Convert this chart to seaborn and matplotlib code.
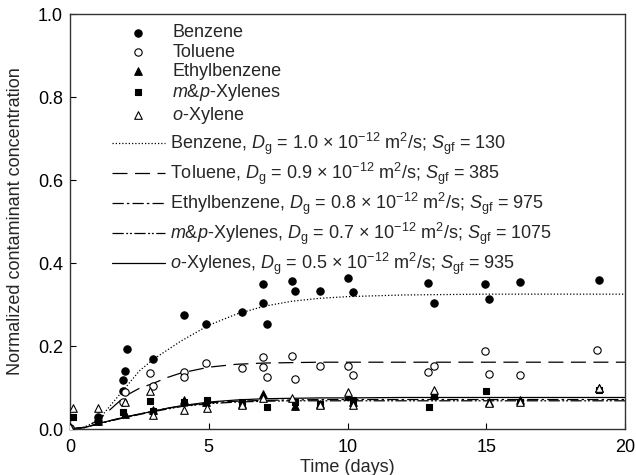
import numpy as np
import pandas as pd
import matplotlib
matplotlib.use('Agg')
import matplotlib.pyplot as plt
import seaborn as sns

# measured data (time in days, normalized concentration)
benz_t = [0, 1.0, 1.9, 1.9, 2.0, 2.05, 3.0, 4.1, 4.9, 6.2, 6.95, 6.95, 7.1, 8.0, 8.1, 9.0, 10.0, 10.2, 12.9, 13.1, 14.95, 15.1, 16.2, 19.05]
benz_c = [0.003, 0.03, 0.092, 0.118, 0.141, 0.193, 0.168, 0.275, 0.252, 0.281, 0.349, 0.303, 0.252, 0.357, 0.332, 0.333, 0.365, 0.330, 0.351, 0.304, 0.349, 0.313, 0.354, 0.359]

tol_t = [0, 1.0, 1.9, 2.0, 2.9, 3.0, 4.1, 4.1, 4.9, 6.2, 6.95, 6.95, 7.1, 8.0, 8.1, 9.0, 10.0, 10.2, 12.9, 13.1, 14.95, 15.1, 16.2, 19.0]
tol_c = [0.003, 0.02, 0.066, 0.088, 0.134, 0.104, 0.137, 0.126, 0.159, 0.147, 0.173, 0.149, 0.125, 0.177, 0.121, 0.152, 0.152, 0.129, 0.138, 0.153, 0.187, 0.132, 0.131, 0.19]

eth_t = [0, 1.0, 2.0, 3.0, 4.1, 4.9, 6.2, 6.95, 8.1, 9.0, 10.0, 10.2, 13.1, 15.1, 16.2, 19.05]
eth_c = [0.005, 0.02, 0.035, 0.045, 0.07, 0.065, 0.06, 0.085, 0.055, 0.06, 0.08, 0.065, 0.085, 0.065, 0.07, 0.1]

mp_t = [0.1, 1.0, 1.9, 2.9, 3.0, 4.1, 4.95, 6.2, 7.1, 8.1, 9.0, 10.2, 12.95, 13.1, 14.98, 16.2, 19.05]
mp_c = [0.03, 0.025, 0.042, 0.067, 0.043, 0.065, 0.07, 0.066, 0.054, 0.065, 0.06, 0.07, 0.054, 0.082, 0.092, 0.066, 0.095]

ox_t = [0, 0.1, 1.0, 2.0, 2.9, 3.0, 4.1, 4.95, 6.2, 6.95, 8.0, 9.0, 10.0, 10.2, 13.1, 15.1, 16.2, 19.05]
ox_c = [0.005, 0.05, 0.05, 0.066, 0.092, 0.034, 0.046, 0.05, 0.058, 0.074, 0.074, 0.058, 0.09, 0.058, 0.094, 0.062, 0.066, 0.098]

# model curves
mod_t = [0, 0.5, 1, 1.5, 2, 2.5, 3, 3.5, 4, 5, 6, 7, 8, 9, 10, 12, 15, 20]
mod_benz = [0, 0.004, 0.02, 0.06, 0.10, 0.14, 0.168, 0.19, 0.212, 0.25, 0.277, 0.296, 0.308, 0.315, 0.319, 0.323, 0.325, 0.325]
mod_tol = [0, 0.004, 0.02, 0.05, 0.08, 0.098, 0.11, 0.124, 0.135, 0.149, 0.156, 0.159, 0.16, 0.161, 0.161, 0.161, 0.161, 0.161]
mod_eth = [0, 0.003, 0.012, 0.021, 0.029, 0.036, 0.043, 0.05, 0.055, 0.063, 0.067, 0.069, 0.070, 0.071, 0.071, 0.071, 0.071, 0.071]
mod_mp = [0, 0.003, 0.012, 0.02, 0.028, 0.035, 0.042, 0.048, 0.054, 0.061, 0.065, 0.067, 0.068, 0.068, 0.068, 0.068, 0.068, 0.068]
mod_ox = [0, 0.003, 0.013, 0.021, 0.029, 0.036, 0.043, 0.05, 0.056, 0.065, 0.070, 0.073, 0.074, 0.075, 0.075, 0.076, 0.076, 0.076]

pt_labels = ['Benzene', 'Toluene', 'Ethylbenzene', r'$m$&$p$-Xylenes', r'$o$-Xylene']
mod_labels = [
    r'Benzene, $D_\mathrm{g}$ = 1.0 $\times$ 10$^{-12}$ m$^2$/s; $S_\mathrm{gf}$ = 130',
    r'Toluene, $D_\mathrm{g}$ = 0.9 $\times$ 10$^{-12}$ m$^2$/s; $S_\mathrm{gf}$ = 385',
    r'Ethylbenzene, $D_\mathrm{g}$ = 0.8 $\times$ 10$^{-12}$ m$^2$/s; $S_\mathrm{gf}$ = 975',
    r'$m$&$p$-Xylenes, $D_\mathrm{g}$ = 0.7 $\times$ 10$^{-12}$ m$^2$/s; $S_\mathrm{gf}$ = 1075',
    r'$o$-Xylenes, $D_\mathrm{g}$ = 0.5 $\times$ 10$^{-12}$ m$^2$/s; $S_\mathrm{gf}$ = 935',
]

sns.set_style('ticks')
plt.rcParams['font.family'] = ['Liberation Sans', 'DejaVu Sans']
plt.rcParams['mathtext.fontset'] = 'custom'
plt.rcParams['mathtext.rm'] = 'Liberation Sans'
plt.rcParams['mathtext.it'] = 'Liberation Sans:italic'
plt.rcParams['mathtext.bf'] = 'Liberation Sans:bold'

fig = plt.figure(figsize=(6.36, 4.75), dpi=100)
ax = fig.add_axes([0.110, 0.0968, 0.873, 0.8737])

# points
pts = [(benz_t, benz_c, 'o', 'black', 28),
       (tol_t, tol_c, 'o', 'white', 28),
       (eth_t, eth_c, '^', 'black', 30),
       (mp_t, mp_c, 's', 'black', 24),
       (ox_t, ox_c, '^', 'white', 30)]
for (t, c, m, fc, s), lab in zip(pts, pt_labels):
    sns.scatterplot(x=t, y=c, marker=m, color=fc, edgecolor='black', linewidth=0.8,
                    s=s, ax=ax, label=lab, zorder=3)

# model lines
styles = [(0, (1, 1.6)), (0, (12, 6)), (0, (9, 2.5, 2, 2.5)), (0, (9, 2, 1.5, 1.5, 1.5, 2)), '-']
mods = [mod_benz, mod_tol, mod_eth, mod_mp, mod_ox]
for c, ls, lab in zip(mods, styles, mod_labels):
    sns.lineplot(x=mod_t, y=c, color='black', linewidth=0.9, linestyle=ls, ax=ax, label=lab)

ax.set_xlim(0, 20)
ax.set_ylim(0, 1.0)
ax.set_xticks([0, 5, 10, 15, 20])
ax.set_yticks([0, 0.2, 0.4, 0.6, 0.8, 1.0])
ax.set_yticklabels(['0.0', '0.2', '0.4', '0.6', '0.8', '1.0'])
ax.tick_params(direction='in', length=4, width=0.8, labelsize=13, colors='black')
ax.tick_params(axis='x', pad=7)
ax.tick_params(axis='y', pad=5)
for sp in ax.spines.values():
    sp.set_linewidth(1.0)
    sp.set_color('#333333')
ax.set_xlabel('Time (days)', fontsize=13, labelpad=2)
ax.set_ylabel('Normalized contaminant concentration', fontsize=13, labelpad=10)

handles, labels = ax.get_legend_handles_labels()
leg1 = ax.legend(handles[:5], labels[:5], loc='upper left', bbox_to_anchor=(0.103, 0.975),
                 frameon=False, borderpad=0, borderaxespad=0, handlelength=1.2,
                 handletextpad=1.3, labelspacing=0.12, fontsize=13)
ax.add_artist(leg1)
ax.legend(handles[5:], labels[5:], loc='upper left', bbox_to_anchor=(0.0757, 0.718),
          frameon=False, borderpad=0, borderaxespad=0, handlelength=2.94,
          handletextpad=0.28, labelspacing=0.2, fontsize=13)

fig.savefig('out.png', dpi=100)
